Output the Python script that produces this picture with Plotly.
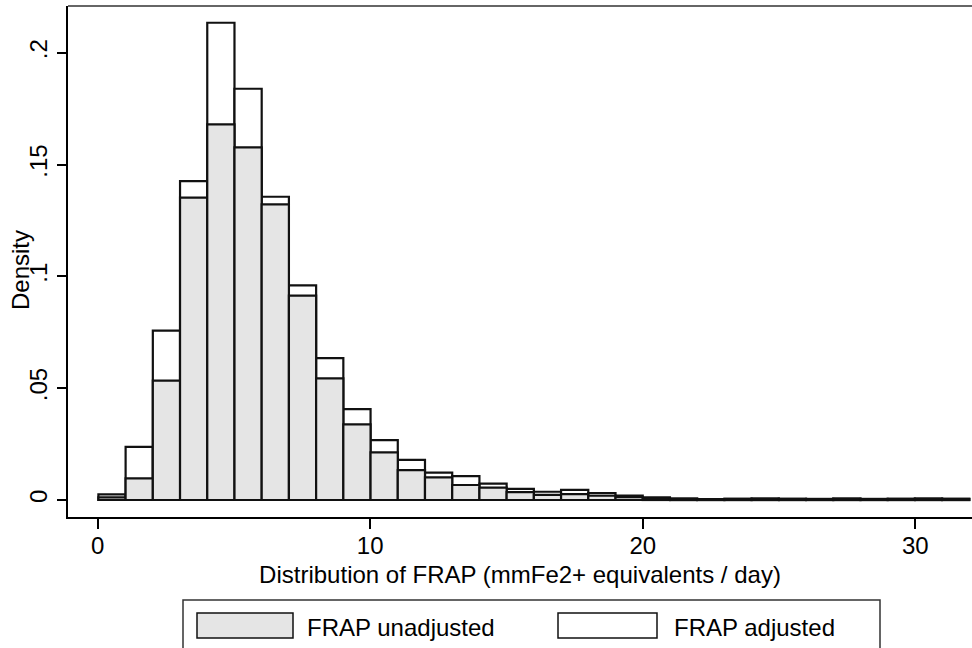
import plotly.graph_objects as go

# ---- data ----
bin_start = 0.03
bin_width = 0.9985
series_names = ["FRAP unadjusted", "FRAP adjusted"]
frap_unadjusted = [0.0012, 0.0097, 0.0534, 0.1352, 0.1680, 0.1577, 0.1322, 0.0914,
                   0.0544, 0.0338, 0.0213, 0.0134, 0.0101, 0.0067, 0.0055, 0.0035,
                   0.0023, 0.0026, 0.0019, 0.0013, 0.0008, 0.0005, 0.0003, 0.0004,
                   0.0005, 0.0004, 0.0003, 0.0005, 0.0003, 0.0004, 0.0005, 0.0004]
frap_adjusted = [0.0025, 0.0238, 0.0757, 0.1426, 0.2134, 0.1839, 0.1356, 0.0960,
                 0.0634, 0.0406, 0.0268, 0.0179, 0.0122, 0.0107, 0.0073, 0.0050,
                 0.0037, 0.0045, 0.0031, 0.0020, 0.0012, 0.0007, 0.0004, 0.0006,
                 0.0007, 0.0006, 0.0005, 0.0007, 0.0005, 0.0006, 0.0007, 0.0006]
x_ticks = [0, 10, 20, 30]
y_tickvals = [0, 0.05, 0.1, 0.15, 0.2]
y_ticktext = ["0", ".05", ".1", ".15", ".2"]
x_title = "Distribution of FRAP (mmFe2+ equivalents / day)"
y_title = "Density"

centers = [bin_start + bin_width * (i + 0.5) for i in range(len(frap_adjusted))]

FONT = "Liberation Sans, Arial, Helvetica, sans-serif"
GRAY = "#e5e5e5"
LINE = "#111111"

fig = go.Figure()
fig.add_trace(go.Bar(x=centers, y=frap_adjusted, width=bin_width, name=series_names[1],
                     marker=dict(color="white", line=dict(color=LINE, width=2.2)),
                     showlegend=False))
fig.add_trace(go.Bar(x=centers, y=frap_unadjusted, width=bin_width, name=series_names[0],
                     marker=dict(color=GRAY, line=dict(color=LINE, width=2.2)),
                     showlegend=False))

fig.update_layout(
    width=972, height=648,
    margin=dict(l=68, r=0, t=6, b=131, autoexpand=False),
    barmode="overlay",
    plot_bgcolor="white", paper_bgcolor="white",
    font=dict(family=FONT, size=24, color="black"),
)
fig.update_xaxes(range=[-1.085, 32.08], tickvals=x_ticks, ticks="outside", ticklen=10,
                 tickwidth=1.5, tickcolor="black", showline=True, linecolor="black",
                 linewidth=2, showgrid=False, zeroline=False, ticklabelstandoff=-4,
                 automargin=False,
                 tickfont=dict(size=24), title=dict(text=x_title, font=dict(size=24), standoff=8))
fig.update_yaxes(range=[-0.0076, 0.2209], tickvals=y_tickvals, ticktext=y_ticktext,
                 tickangle=-90, ticks="outside", ticklen=9, tickwidth=1.5, tickcolor="black",
                 showline=True, linecolor="black", linewidth=2, showgrid=False, zeroline=False,
                 automargin=False,
                 tickfont=dict(size=24), title=dict(text=""))

W, H = 972.0, 648.0
pl, pb, pt = 68.0, 131.0, 6.0
pw, ph = W - pl, H - pt - pb
def px(x):
    return (x - pl) / pw
def py(y):
    return (H - pb - y) / ph

# y-axis title placed like the reference (overlapping the tick label area)
fig.add_annotation(xref="paper", yref="paper", x=px(20), y=py(270), text=y_title,
                   textangle=-90, showarrow=False, xanchor="center", yanchor="middle",
                   font=dict(size=24))

# top border of plot region
fig.add_shape(type="line", xref="paper", yref="paper", x0=0, x1=1, y0=1, y1=1,
              line=dict(color="#666666", width=2))

# custom legend (large swatches like Stata)
fig.add_shape(type="rect", xref="paper", yref="paper", x0=px(183), x1=px(880),
              y0=py(660), y1=py(600), line=dict(color="#333333", width=1.5),
              fillcolor="white", layer="below")
fig.add_shape(type="rect", xref="paper", yref="paper", x0=px(197), x1=px(293),
              y0=py(638), y1=py(613), line=dict(color=LINE, width=1.5), fillcolor=GRAY)
fig.add_shape(type="rect", xref="paper", yref="paper", x0=px(558), x1=px(657),
              y0=py(638), y1=py(613), line=dict(color=LINE, width=1.5), fillcolor="white")
fig.add_annotation(xref="paper", yref="paper", x=px(305), y=py(627), text=series_names[0],
                   showarrow=False, xanchor="left", yanchor="middle", font=dict(size=24))
fig.add_annotation(xref="paper", yref="paper", x=px(672), y=py(627), text=series_names[1],
                   showarrow=False, xanchor="left", yanchor="middle", font=dict(size=24))

fig.write_html("out.html")
